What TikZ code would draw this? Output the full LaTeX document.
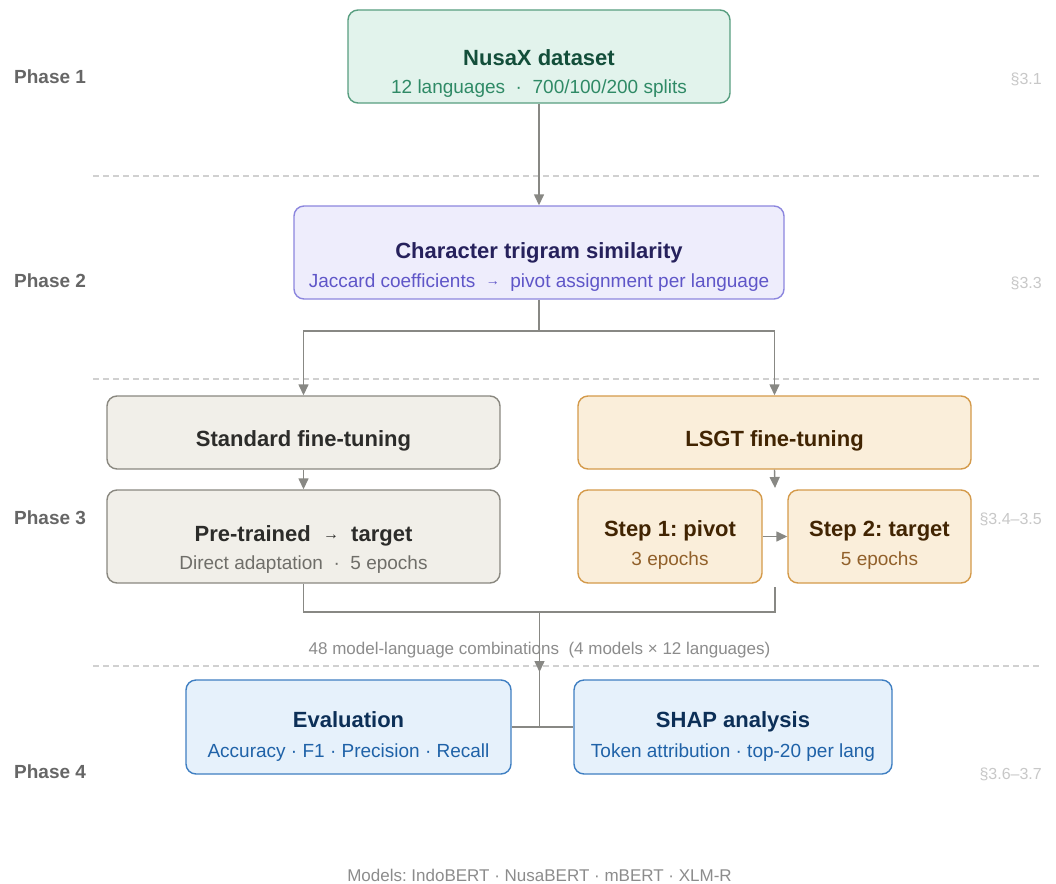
\documentclass[tikz,border=0pt]{standalone}
\usepackage{fontspec}
\setmainfont{Liberation Sans}
\usetikzlibrary{arrows.meta,calc}
\definecolor{greenfill}{RGB}{226,243,236}
\definecolor{greenline}{RGB}{88,158,128}
\definecolor{greentitle}{RGB}{19,78,58}
\definecolor{greensub}{RGB}{47,138,102}
\definecolor{purplefill}{RGB}{238,237,252}
\definecolor{purpleline}{RGB}{140,134,222}
\definecolor{purpletitle}{RGB}{38,33,92}
\definecolor{purplesub}{RGB}{95,86,200}
\definecolor{grayfill}{RGB}{241,239,233}
\definecolor{grayline}{RGB}{138,136,128}
\definecolor{graytitle}{RGB}{44,44,42}
\definecolor{graysub}{RGB}{111,110,105}
\definecolor{orangefill}{RGB}{250,238,218}
\definecolor{orangeline}{RGB}{212,154,74}
\definecolor{orangetitle}{RGB}{65,36,2}
\definecolor{orangesub}{RGB}{145,96,42}
\definecolor{bluefill}{RGB}{230,241,251}
\definecolor{blueline}{RGB}{63,127,194}
\definecolor{bluetitle}{RGB}{12,47,87}
\definecolor{bluesub}{RGB}{31,98,168}
\definecolor{conngray}{RGB}{136,136,132}
\definecolor{sepgray}{RGB}{208,208,208}
\definecolor{phasegray}{RGB}{102,102,102}
\definecolor{secgray}{RGB}{200,200,200}
\definecolor{notegray}{RGB}{140,140,140}
\tikzset{
  box/.style={draw, rounded corners=10pt, line width=1.4pt, inner sep=0pt},
  boxtitle/.style={anchor=base, font=\fontsize{22}{26}\selectfont\bfseries},
  boxsub/.style={anchor=base, font=\fontsize{19}{23}\selectfont},
  phaselabel/.style={anchor=base west, inner sep=0pt, text=phasegray,
    font=\fontsize{19}{23}\selectfont\bfseries},
  seclabel/.style={anchor=base east, inner sep=0pt, text=secgray,
    font=\fontsize{16}{19}\selectfont},
  notelabel/.style={anchor=base, text=notegray,
    font=\fontsize{17}{20}\selectfont},
  connline/.style={draw=conngray, line width=1.4pt},
  connarrow/.style={connline, -{Triangle[length=11pt,width=10pt]}},
  sepline/.style={draw=sepgray, line width=1.2pt, dash pattern=on 6pt off 4pt}
}

\begin{document}
\frenchspacing
\begin{tikzpicture}[x=1pt,y=-1pt]
  \useasboundingbox[fill=white] (0,0) rectangle (1056,883);

  % phase separators
  \foreach \ypos in {176,379,666}
    \draw[sepline] (93,\ypos) -- (1042,\ypos);

  % The boxes
  \node[box, fill=greenfill, draw=greenline,
    minimum width=382pt, minimum height=93pt] (data) at (539,56.5) {};
  \node[box, fill=purplefill, draw=purpleline,
    minimum width=490pt, minimum height=93pt] (sim) at (539,252.5) {};
  \node[box, fill=grayfill, draw=grayline,
    minimum width=393pt, minimum height=73pt] (std) at (303.5,432.5) {};
  \node[box, fill=grayfill, draw=grayline,
    minimum width=393pt, minimum height=93pt] (pre) at (303.5,536.5) {};
  \node[box, fill=orangefill, draw=orangeline,
    minimum width=393pt, minimum height=73pt] (lsgt) at (774.5,432.5) {};
  \node[box, fill=orangefill, draw=orangeline,
    minimum width=184pt, minimum height=93pt] (step1) at (670,536.5) {};
  \node[box, fill=orangefill, draw=orangeline,
    minimum width=183pt, minimum height=93pt] (step2) at (879.5,536.5) {};
  \node[box, fill=bluefill, draw=blueline,
    minimum width=325pt, minimum height=94pt] (eval) at (348.5,727) {};
  \node[box, fill=bluefill, draw=blueline,
    minimum width=318pt, minimum height=94pt] (shap) at (733,727) {};

  % The labels
  \node[boxtitle, text=greentitle] (datatitle) at (539,65) {NusaX dataset};
  \node[boxsub, text=greensub] (datasub) at (539,93)
    {12 languages \ · \ 700/100/200 splits};
  \node[boxtitle, text=purpletitle] (simtitle) at (539,258)
    {Character trigram similarity};
  \node[boxsub, text=purplesub] (simsub) at (539,287)
    {Jaccard coefficients \ {\fontsize{14}{16}\selectfont\raisebox{1.5pt}{→}} \ pivot assignment per language};
  \node[boxtitle, text=graytitle] (stdtitle) at (303.5,446)
    {Standard fine-tuning};
  \node[boxtitle, text=graytitle] (pretitle) at (303.5,541)
    {Pre-trained \ {\fontsize{16}{18}\selectfont\mdseries\raisebox{1.5pt}{→}} \ target};
  \node[boxsub, text=graysub] (presub) at (303.5,569)
    {Direct adaptation \ · \ 5 epochs};
  \node[boxtitle, text=orangetitle] (lsgttitle) at (774.5,446)
    {LSGT fine-tuning};
  \node[boxtitle, text=orangetitle] (step1title) at (670,536.5)
    {Step 1: pivot};
  \node[boxsub, text=orangesub] (step1sub) at (670,565) {3 epochs};
  \node[boxtitle, text=orangetitle] (step2title) at (879.5,536.5)
    {Step 2: target};
  \node[boxsub, text=orangesub] (step2sub) at (879.5,565) {5 epochs};
  \node[boxtitle, text=bluetitle] (evaltitle) at (348.5,727) {Evaluation};
  \node[boxsub, text=bluesub] (evalsub) at (348.5,757)
    {Accuracy · F1 · Precision · Recall};
  \node[boxtitle, text=bluetitle] (shaptitle) at (733,727) {SHAP analysis};
  \node[boxsub, text=bluesub] (shapsub) at (733,757)
    {Token attribution · top-20 per lang};
  \node[notelabel] (combos) at (539.5,654)
    {48 model-language combinations \ (4 models × 12 languages)};
  \node[notelabel] (models) at (539.5,881)
    {Models: IndoBERT · NusaBERT · mBERT · XLM-R};

  % phases and sections
  \node[phaselabel] (ph1) at (14,83) {Phase 1};
  \node[phaselabel] (ph2) at (14,287) {Phase 2};
  \node[phaselabel] (ph3) at (14,524) {Phase 3};
  \node[phaselabel] (ph4) at (14,778) {Phase 4};
  \node[seclabel] (sec1) at (1042,84) {§3.1};
  \node[seclabel] (sec2) at (1042,288) {§3.3};
  \node[seclabel] (sec3) at (1042,524) {§3.4–3.5};
  \node[seclabel] (sec4) at (1042,779) {§3.6–3.7};

  % The connectors
  \coordinate (split) at (539,331);
  \coordinate (gaptop) at (775,488);
  \coordinate (gapbot) at (775,587);
  \coordinate (merge) at (539.5,612);
  \coordinate (tip) at (539.5,672);
  \coordinate (join) at (539.5,727);
  \draw[connarrow] (data) -- (sim);
  \draw[connline] (sim) -- (split);
  \draw[connarrow] (split) -| (std.north);
  \draw[connarrow] (split) -| (lsgt.north);
  \draw[connarrow] (std) -- (pre);
  \draw[connarrow] (lsgt.south) -- (gaptop);
  \draw[connarrow] (step1) -- (step2);
  \draw[connline] (pre.south) |- (merge) -| (gapbot);
  \draw[connline] (merge) -- (join);
  \draw[connarrow] (merge) -- (tip);
  \draw[connline] (eval) -- (shap);
\end{tikzpicture}
\end{document}
